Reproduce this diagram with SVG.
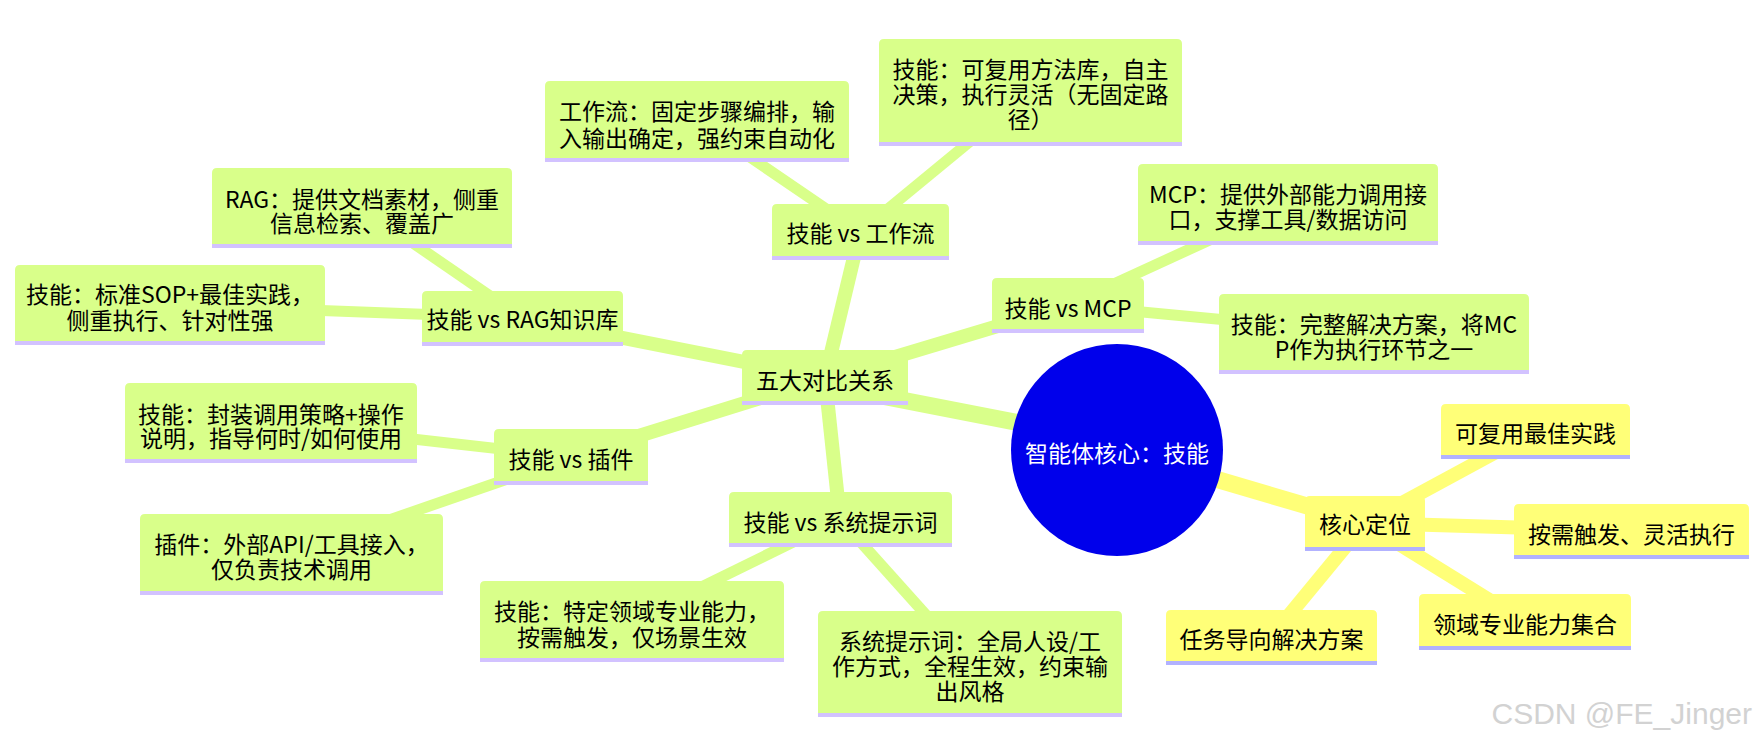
<svg xmlns="http://www.w3.org/2000/svg" width="1759" height="741" viewBox="0 0 1759 741">
<style>
.ng{fill:#d9ff8a}
.ny{fill:#ffff78}
.bg{fill:#d2c2ff}
.by{fill:#b2b2ff}
text{font-family:"Noto Sans CJK SC","Noto Sans",sans-serif;font-size:23px;fill:#000;text-anchor:middle;dominant-baseline:central}
.wt{fill:#fff}
.eg{stroke:#d9ff8a;fill:none;stroke-linecap:butt}
.ey{stroke:#ffff78;fill:none;stroke-linecap:butt}
.d0{stroke-width:17}
.d1{stroke-width:14}
.d2{stroke-width:11}
.wm{font-family:"Liberation Sans",Arial,sans-serif;font-size:30px;fill:#d2d2d2;text-anchor:end;dominant-baseline:auto}
</style>
<rect width="1759" height="741" fill="#fff"/>
<g id="connectors">
<line class="eg d0" x1="825" y1="385" x2="1117" y2="442"/>
<line class="ey d0" x1="1117" y1="450" x2="1365" y2="523"/>
<line class="eg d1" x1="825" y1="378" x2="860" y2="232"/>
<line class="eg d1" x1="825" y1="378" x2="522" y2="318"/>
<line class="eg d1" x1="825" y1="378" x2="1068" y2="305"/>
<line class="eg d1" x1="825" y1="378" x2="571" y2="457"/>
<line class="eg d1" x1="825" y1="378" x2="840" y2="519"/>
<line class="eg d2" x1="860" y1="232" x2="697" y2="121"/>
<line class="eg d2" x1="860" y1="232" x2="1030" y2="92"/>
<line class="eg d2" x1="522" y1="318" x2="362" y2="208"/>
<line class="eg d2" x1="522" y1="318" x2="170" y2="305"/>
<line class="eg d2" x1="1068" y1="305" x2="1288" y2="204"/>
<line class="eg d2" x1="1068" y1="305" x2="1374" y2="334"/>
<line class="eg d2" x1="571" y1="457" x2="271" y2="423"/>
<line class="eg d2" x1="571" y1="457" x2="291" y2="554"/>
<line class="eg d2" x1="840" y1="519" x2="632" y2="621"/>
<line class="eg d2" x1="840" y1="519" x2="970" y2="664"/>
<line class="ey d1" x1="1365" y1="523" x2="1535" y2="431"/>
<line class="ey d1" x1="1365" y1="523" x2="1631" y2="531"/>
<line class="ey d1" x1="1365" y1="523" x2="1525" y2="622"/>
<line class="ey d1" x1="1365" y1="523" x2="1271" y2="637"/>
</g>
<g id="root">
<circle cx="1117" cy="450" r="106" fill="#0000eb"/>
<text class="wt" x="1117" y="452">智能体核心：技能</text>
</g>
<g id="n_five">
<path class="ng" d="M742,405V355Q742,350 747,350H903Q908,350 908,355V405Z"/>
<rect class="bg" x="742" y="401" width="166" height="4"/>
<text x="825" y="379">五大对比关系</text>
</g>
<g id="n_vs_wf">
<path class="ng" d="M772,260V209Q772,204 777,204H944Q949,204 949,209V260Z"/>
<rect class="bg" x="772" y="256" width="177" height="4"/>
<text x="860.5" y="232">技能 vs 工作流</text>
</g>
<g id="n_wf">
<path class="ng" d="M545,162V86Q545,81 550,81H844Q849,81 849,86V162Z"/>
<rect class="bg" x="545" y="158" width="304" height="4"/>
<text x="697" y="110">工作流：固定步骤编排，输</text>
<text x="697" y="137">入输出确定，强约束自动化</text>
</g>
<g id="n_skill_wf">
<path class="ng" d="M879,146V44Q879,39 884,39H1177Q1182,39 1182,44V146Z"/>
<rect class="bg" x="879" y="142" width="303" height="4"/>
<text x="1030.5" y="68">技能：可复用方法库，自主</text>
<text x="1030.5" y="93">决策，执行灵活（无固定路</text>
<text x="1030.5" y="118">径）</text>
</g>
<g id="n_vs_rag">
<path class="ng" d="M422,346V296Q422,291 427,291H618Q623,291 623,296V346Z"/>
<rect class="bg" x="422" y="342" width="201" height="4"/>
<text x="522.5" y="318">技能 vs RAG知识库</text>
</g>
<g id="n_rag">
<path class="ng" d="M212,248V173Q212,168 217,168H507Q512,168 512,173V248Z"/>
<rect class="bg" x="212" y="244" width="300" height="4"/>
<text x="362" y="198">RAG：提供文档素材，侧重</text>
<text x="362" y="222">信息检索、覆盖广</text>
</g>
<g id="n_sop">
<path class="ng" d="M15,345V270Q15,265 20,265H320Q325,265 325,270V345Z"/>
<rect class="bg" x="15" y="341" width="310" height="4"/>
<text x="170" y="293">技能：标准SOP+最佳实践，</text>
<text x="170" y="319">侧重执行、针对性强</text>
</g>
<g id="n_vs_mcp">
<path class="ng" d="M992,333V283Q992,278 997,278H1139Q1144,278 1144,283V333Z"/>
<rect class="bg" x="992" y="329" width="152" height="4"/>
<text x="1068" y="307">技能 vs MCP</text>
</g>
<g id="n_mcp">
<path class="ng" d="M1138,245V169Q1138,164 1143,164H1433Q1438,164 1438,169V245Z"/>
<rect class="bg" x="1138" y="241" width="300" height="4"/>
<text x="1288" y="193">MCP：提供外部能力调用接</text>
<text x="1288" y="218">口，支撑工具/数据访问</text>
</g>
<g id="n_mcp_skill">
<path class="ng" d="M1219,374V299Q1219,294 1224,294H1524Q1529,294 1529,299V374Z"/>
<rect class="bg" x="1219" y="370" width="310" height="4"/>
<text x="1374" y="323">技能：完整解决方案，将MC</text>
<text x="1374" y="348">P作为执行环节之一</text>
</g>
<g id="n_vs_plugin">
<path class="ng" d="M494,485V434Q494,429 499,429H643Q648,429 648,434V485Z"/>
<rect class="bg" x="494" y="481" width="154" height="4"/>
<text x="571" y="458">技能 vs 插件</text>
</g>
<g id="n_plugin_skill">
<path class="ng" d="M125,463V388Q125,383 130,383H412Q417,383 417,388V463Z"/>
<rect class="bg" x="125" y="459" width="292" height="4"/>
<text x="271" y="413">技能：封装调用策略+操作</text>
<text x="271" y="437">说明，指导何时/如何使用</text>
</g>
<g id="n_plugin">
<path class="ng" d="M140,595V519Q140,514 145,514H438Q443,514 443,519V595Z"/>
<rect class="bg" x="140" y="591" width="303" height="4"/>
<text x="291.5" y="543">插件：外部API/工具接入，</text>
<text x="291.5" y="568">仅负责技术调用</text>
</g>
<g id="n_vs_sys">
<path class="ng" d="M729,547V497Q729,492 734,492H947Q952,492 952,497V547Z"/>
<rect class="bg" x="729" y="543" width="223" height="4"/>
<text x="840.5" y="521">技能 vs 系统提示词</text>
</g>
<g id="n_sys_skill">
<path class="ng" d="M480,662V586Q480,581 485,581H779Q784,581 784,586V662Z"/>
<rect class="bg" x="480" y="658" width="304" height="4"/>
<text x="632" y="610">技能：特定领域专业能力，</text>
<text x="632" y="636">按需触发，仅场景生效</text>
</g>
<g id="n_sys">
<path class="ng" d="M818,717V616Q818,611 823,611H1117Q1122,611 1122,616V717Z"/>
<rect class="bg" x="818" y="713" width="304" height="4"/>
<text x="970" y="640">系统提示词：全局人设/工</text>
<text x="970" y="665">作方式，全程生效，约束输</text>
<text x="970" y="690">出风格</text>
</g>
<g id="n_core">
<path class="ny" d="M1305,551V501Q1305,496 1310,496H1420Q1425,496 1425,501V551Z"/>
<rect class="by" x="1305" y="547" width="120" height="4"/>
<text x="1365" y="523">核心定位</text>
</g>
<g id="n_reuse">
<path class="ny" d="M1441,459V409Q1441,404 1446,404H1625Q1630,404 1630,409V459Z"/>
<rect class="by" x="1441" y="455" width="189" height="4"/>
<text x="1535.5" y="432">可复用最佳实践</text>
</g>
<g id="n_ondemand">
<path class="ny" d="M1514,559V509Q1514,504 1519,504H1744Q1749,504 1749,509V559Z"/>
<rect class="by" x="1514" y="555" width="235" height="4"/>
<text x="1631.5" y="533">按需触发、灵活执行</text>
</g>
<g id="n_domain">
<path class="ny" d="M1419,650V599Q1419,594 1424,594H1626Q1631,594 1631,599V650Z"/>
<rect class="by" x="1419" y="646" width="212" height="4"/>
<text x="1525" y="623">领域专业能力集合</text>
</g>
<g id="n_task">
<path class="ny" d="M1166,665V615Q1166,610 1171,610H1372Q1377,610 1377,615V665Z"/>
<rect class="by" x="1166" y="661" width="211" height="4"/>
<text x="1271.5" y="638">任务导向解决方案</text>
</g>
<text class="wm" x="1752" y="724">CSDN @FE_Jinger</text>
</svg>
